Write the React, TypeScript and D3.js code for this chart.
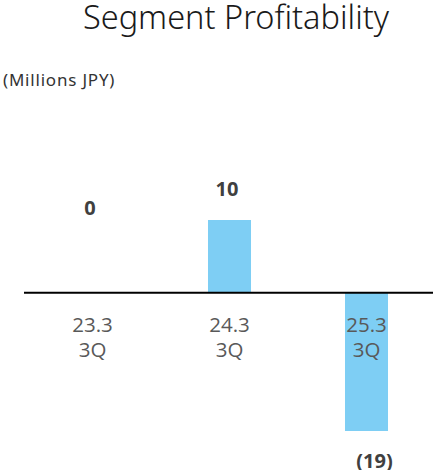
import React, { useEffect, useRef } from 'react';
import * as d3 from 'd3';

const categories = ['23.3 3Q', '24.3 3Q', '25.3 3Q'];
const profits = [0, 10, -19];
const valueLabels = ['0', '10', '(19)'];

const W = 433;
const H = 470;

const App = () => {
  const ref = useRef<SVGSVGElement>(null);

  useEffect(() => {
    const svg = d3.select(ref.current);
    svg.selectAll('*').remove();

    const x = d3
      .scaleBand()
      .domain(categories)
      .range([24, 435])
      .paddingInner(0.686)
      .paddingOuter(0.343);

    const y = d3.scaleLinear().domain([-19, 10]).range([431, 220]);

    svg
      .append('text')
      .attr('x', 236)
      .attr('y', 29)
      .attr('text-anchor', 'middle')
      .style('font-family', '"Noto Sans", sans-serif')
      .style('font-size', '32.5px')
      .style('font-weight', 300)
      .attr('fill', '#1a1a1a')
      .text('Segment Profitability');

    svg
      .append('text')
      .attr('x', 3)
      .attr('y', 86)
      .style('font-family', '"Noto Sans", sans-serif')
      .style('font-size', '17px')
      .style('letter-spacing', '0.8px')
      .attr('fill', '#333')
      .text('(Millions JPY)');

    svg
      .selectAll('rect.bar')
      .data(profits)
      .join('rect')
      .attr('class', 'bar')
      .attr('x', (d, i) => x(categories[i])!)
      .attr('width', x.bandwidth())
      .attr('y', (d) => y(Math.max(0, d)))
      .attr('height', (d) => Math.abs(y(d) - y(0)))
      .attr('fill', '#7ecef4');

    svg
      .append('line')
      .attr('x1', 24)
      .attr('x2', W)
      .attr('y1', y(0))
      .attr('y2', y(0))
      .attr('stroke', '#000')
      .attr('stroke-width', 2);

    const cat = svg
      .selectAll('text.cat')
      .data(categories)
      .join('text')
      .attr('class', 'cat')
      .attr('text-anchor', 'middle')
      .style('font-family', '"Open Sans", sans-serif')
      .style('font-size', '20.5px')
      .attr('fill', '#595959');
    cat
      .append('tspan')
      .attr('x', (d) => x(d)! + x.bandwidth() / 2)
      .attr('y', y(0) + 39)
      .text((d) => d.split(' ')[0]);
    cat
      .append('tspan')
      .attr('x', (d) => x(d)! + x.bandwidth() / 2)
      .attr('y', y(0) + 64)
      .text((d) => d.split(' ')[1]);

    svg
      .selectAll('text.val')
      .data(profits)
      .join('text')
      .attr('class', 'val')
      .attr('text-anchor', 'middle')
      .attr('x', (d, i) => x(categories[i])! + x.bandwidth() / 2 + (d < 0 ? 8 : -2.5))
      .attr('y', (d) => (d > 0 ? y(d) - 24 : d < 0 ? y(d) + 37 : y(0) - 78))
      .style('font-family', '"Open Sans", sans-serif')
      .style('font-size', '20px')
      .style('font-weight', 700)
      .attr('fill', '#404040')
      .text((d, i) => valueLabels[i]);
  }, []);

  return (
    <svg
      ref={ref}
      width={W}
      height={H}
      style={{ position: 'absolute', left: 0, top: 0, display: 'block' }}
    />
  );
};

export default App;
